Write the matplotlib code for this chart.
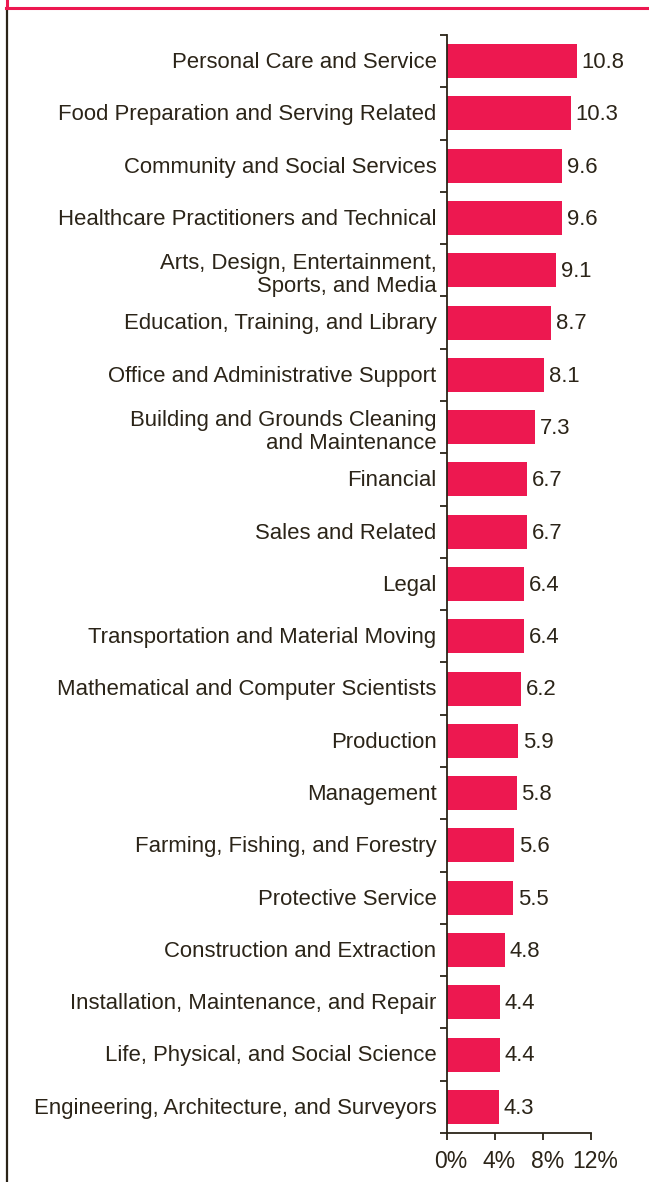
import matplotlib
matplotlib.use("Agg")
import matplotlib.pyplot as plt
from matplotlib.lines import Line2D
from matplotlib.transforms import offset_copy, blended_transform_factory

categories = [
    "Personal Care and Service",
    "Food Preparation and Serving Related",
    "Community and Social Services",
    "Healthcare Practitioners and Technical",
    "Arts, Design, Entertainment,\nSports, and Media",
    "Education, Training, and Library",
    "Office and Administrative Support",
    "Building and Grounds Cleaning\nand Maintenance",
    "Financial",
    "Sales and Related",
    "Legal",
    "Transportation and Material Moving",
    "Mathematical and Computer Scientists",
    "Production",
    "Management",
    "Farming, Fishing, and Forestry",
    "Protective Service",
    "Construction and Extraction",
    "Installation, Maintenance, and Repair",
    "Life, Physical, and Social Science",
    "Engineering, Architecture, and Surveyors",
]
values = [10.8, 10.3, 9.6, 9.6, 9.1, 8.7, 8.1, 7.3, 6.7, 6.7, 6.4, 6.4,
          6.2, 5.9, 5.8, 5.6, 5.5, 4.8, 4.4, 4.4, 4.3]
xticks = [0, 4, 8, 12]
xticklabels = ["0%", "4%", "8%", "12%"]

BAR = "#ED1850"
INK = "#2B2418"
FONT = ["Liberation Sans", "DejaVu Sans"]
plt.rcParams["font.family"] = FONT

W, H = 649, 1182
fig = plt.figure(figsize=(W / 100, H / 100), dpi=100)

ax = fig.add_axes([447 / W, 1 - 1133 / H, (591 - 447) / W, (1133 - 35) / H])
n = len(categories)
pos = list(range(n))
ax.barh(pos, values, height=0.65, color=BAR, zorder=2)
ax.set_ylim(n - 0.5, -0.5)
ax.set_xlim(0, 12)

fs = 15.9
lab_tr = offset_copy(ax.transData, fig=fig, x=-7.5, y=-1, units="points")
lab2_tr = offset_copy(ax.transData, fig=fig, x=-7.5, y=-3.5, units="points")
val_tr = offset_copy(ax.transData, fig=fig, x=3.5, y=-1, units="points")
for i, (c, v) in enumerate(zip(categories, values)):
    tr = lab2_tr if "\n" in c else lab_tr
    ax.text(0, i, c, ha="right", va="center", fontsize=fs, color=INK,
            linespacing=1.1, transform=tr)
    ax.text(v, i, f"{v:.1f}", ha="left", va="center",
            fontsize=fs, color=INK, transform=val_tr)

ax.set_yticks([k - 0.5 for k in range(n + 1)])
ax.set_yticklabels([])
ax.set_xticks(xticks)
ax.set_xticklabels([])
tick_tr = offset_copy(blended_transform_factory(ax.transData, ax.transAxes),
                      fig=fig, x=3, y=-12, units="points")
for xv, xl in zip(xticks, xticklabels):
    ax.text(xv, 0, xl, ha="center", va="top", fontsize=fs + 0.6, color=INK,
            transform=tick_tr, clip_on=False)
ax.tick_params(axis="both", direction="out", length=5, width=1.3, color=INK)
for s in ["top", "right"]:
    ax.spines[s].set_visible(False)
for s in ["left", "bottom"]:
    ax.spines[s].set_color(INK)
    ax.spines[s].set_linewidth(1.3)

# frame decorations
fig.add_artist(Line2D([6.5 / W, 6.5 / W], [0, 1 - 10 / H], color=INK, lw=1.6))
fig.add_artist(Line2D([6 / W, 1.0], [1 - 8 / H, 1 - 8 / H], color=BAR, lw=2.2))
fig.add_artist(Line2D([6.5 / W, 6.5 / W], [1 - 8 / H, 1.0], color=BAR, lw=2.2))

fig.savefig("out.png", dpi=100)
